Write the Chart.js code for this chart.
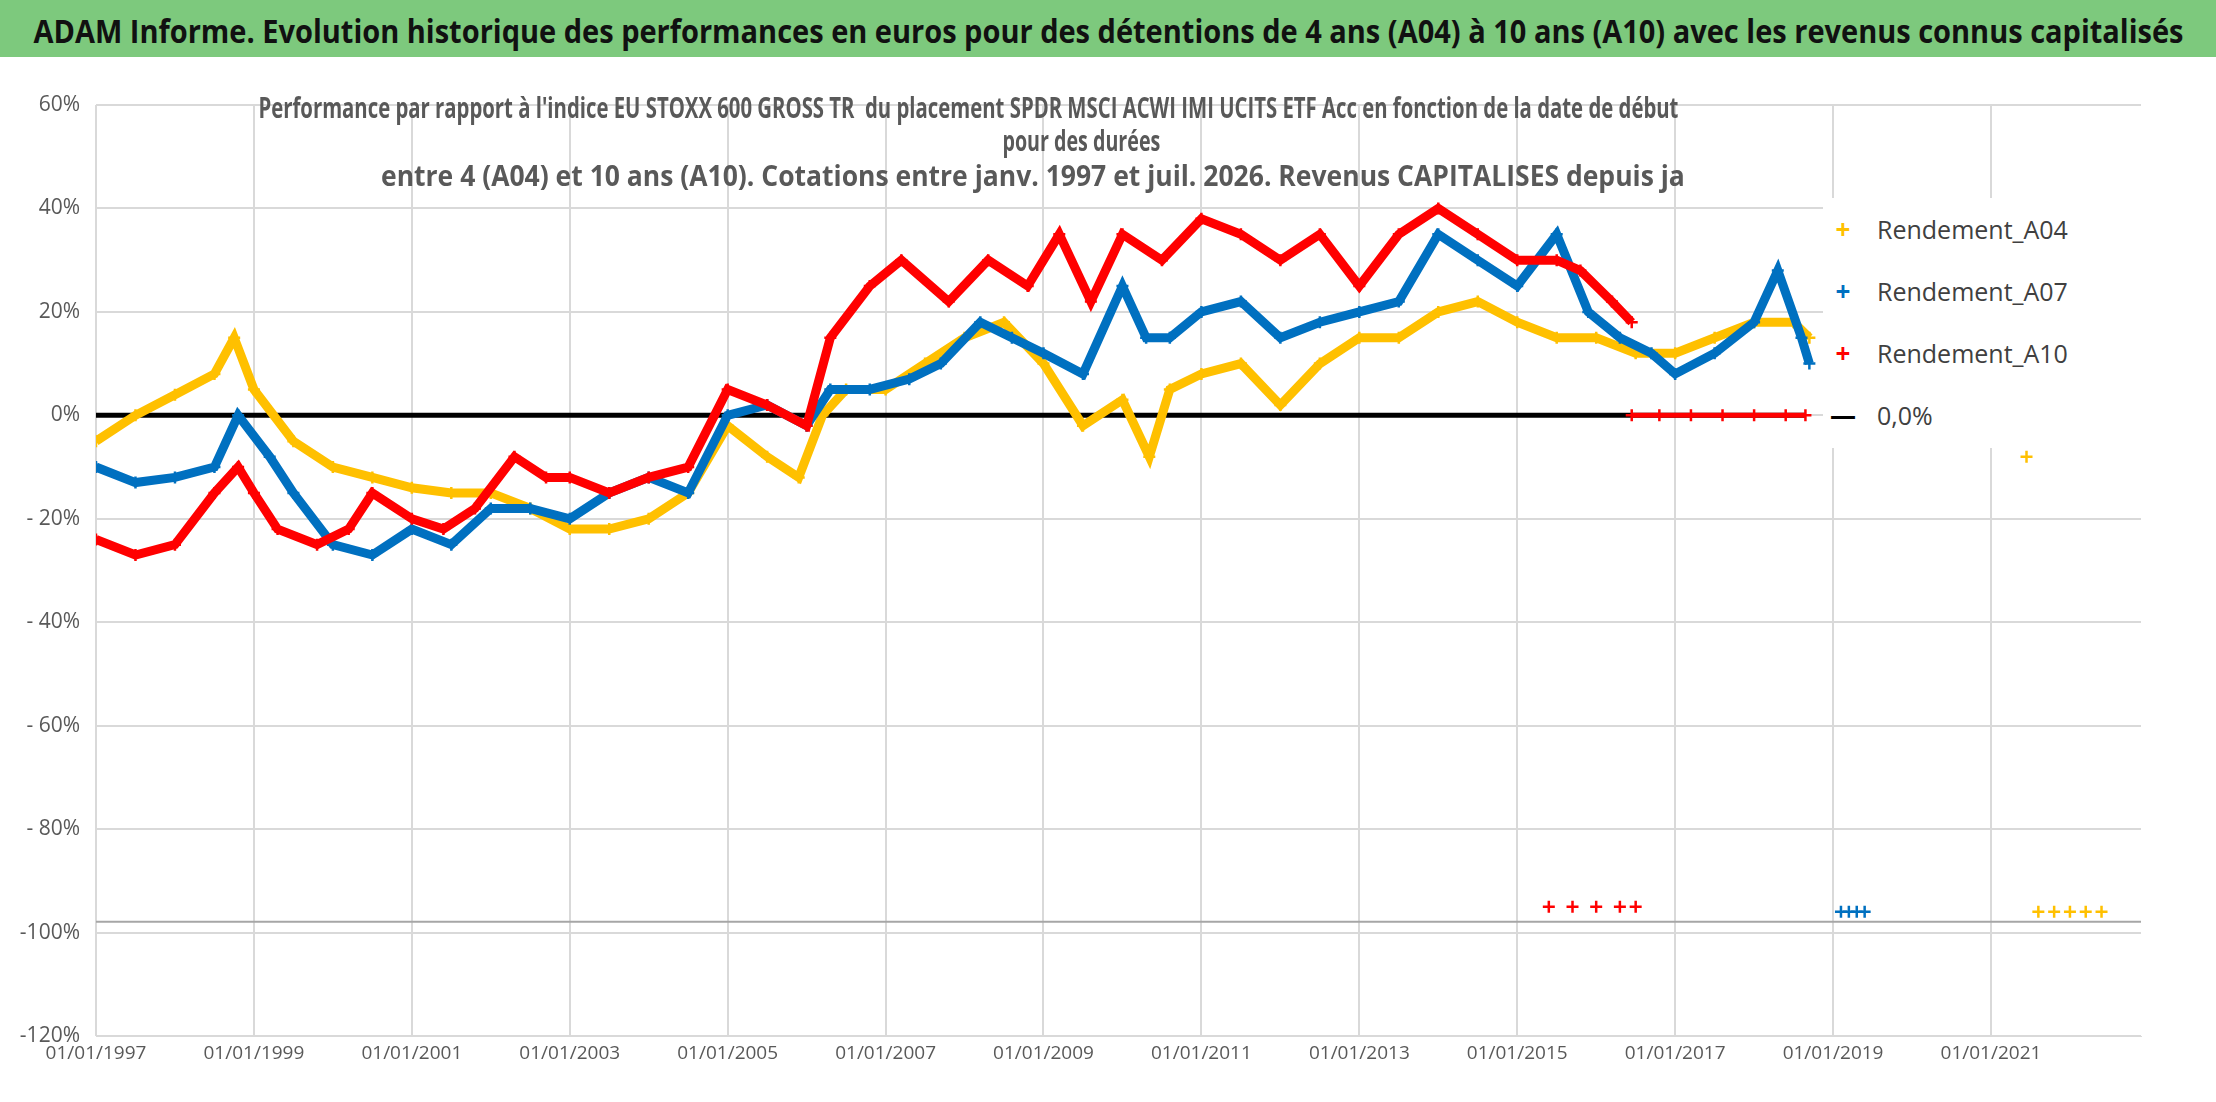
<!DOCTYPE html>
<html><head><meta charset="utf-8">
<script src="https://cdn.jsdelivr.net/npm/chart.js@4"></script>
<style>
body{margin:0;width:2216px;height:1102px;background:#fff;font-family:"Liberation Sans",Arial,sans-serif;position:relative;overflow:hidden}
#bar{position:absolute;left:0;top:0;width:2216px;height:57px;background:#7dc97d}
.fit{position:absolute;white-space:nowrap;transform-origin:center center}
#t1{top:9px;font:bold 32px "Open Sans",sans-serif;color:#111}
.s{font:bold 28px "Open Sans",sans-serif;color:#595959}
#wrap{position:absolute;left:0;top:57px;width:2216px;height:1045px}
#leg{position:absolute;left:1823px;top:198px;width:318px;height:250px;background:#fff;font:25px "Open Sans",sans-serif;color:#404040}
#leg div{height:62px;display:flex;align-items:center}
#leg span.m{display:inline-block;width:40px;text-align:center;font-weight:bold;font-size:26px;margin-right:14px}
</style></head><body>
<div id="bar"></div>
<div id="t1" class="fit" data-c="1108" data-w="2150">ADAM Informe. Evolution historique des performances en euros pour des détentions de 4 ans (A04) à 10 ans (A10) avec les revenus connus capitalisés</div>
<div id="wrap"><canvas id="c"></canvas></div>
<div class="fit s" style="top:88px" data-c="968" data-w="1420">Performance par rapport à l'indice EU STOXX 600 GROSS TR &nbsp;du placement SPDR MSCI ACWI IMI UCITS ETF Acc en fonction de la date de début</div>
<div class="fit s" style="top:121px" data-c="1081" data-w="158">pour des durées</div>
<div class="fit s" style="top:156px" data-c="1033" data-w="1304">entre 4 (A04) et 10 ans (A10). Cotations entre janv. 1997 et juil. 2026. Revenus CAPITALISES depuis ja</div>
<div id="leg"></div>
<script>
// dates in decimal years, values in %
const a04Dates = [1997,1997.5,1998,1998.5,1998.75,1999,1999.5,2000,2000.5,2001,2001.5,2002,2002.5,2003,2003.5,2004,2004.5,2005,2005.5,2005.9,2006.2,2006.5,2007,2007.5,2008,2008.5,2009,2009.5,2010,2010.34,2010.6,2011,2011.5,2012,2012.5,2013,2013.5,2014,2014.5,2015,2015.5,2016,2016.5,2017,2017.5,2018,2018.5,2018.7];
const a04Vals  = [-5,0,4,8,15,5,-5,-10,-12,-14,-15,-15,-18,-22,-22,-20,-15,-2,-8,-12,0,5,5,10,15,18,10,-2,3,-8,5,8,10,2,10,15,15,20,22,18,15,15,12,12,15,18,18,15];
const a04OutDates = [2021.45,2021.6,2021.8,2022.0,2022.2,2022.4];
const a04OutVals  = [-8,-96,-96,-96,-96,-96];

const a07Dates = [1997,1997.5,1998,1998.5,1998.8,1999.2,1999.5,2000,2000.5,2001,2001.5,2002,2002.5,2003,2003.5,2004,2004.5,2005,2005.5,2006,2006.3,2006.8,2007.3,2007.7,2008.2,2008.6,2009,2009.5,2010,2010.3,2010.6,2011,2011.5,2012,2012.5,2013,2013.5,2014,2014.5,2015,2015.5,2015.9,2016.3,2016.7,2017,2017.5,2018,2018.3,2018.6,2018.7];
const a07Vals  = [-10,-13,-12,-10,0,-8,-15,-25,-27,-22,-25,-18,-18,-20,-15,-12,-15,0,2,-2,5,5,7,10,18,15,12,8,25,15,15,20,22,15,18,20,22,35,30,25,35,20,15,12,8,12,18,28,15,10];
const a07OutDates = [2019.1,2019.2,2019.3,2019.4];
const a07OutVals  = [-96,-96,-96,-96];

const a10Dates = [1997,1997.5,1998,1998.5,1998.8,1999,1999.3,1999.8,2000.2,2000.5,2001,2001.4,2001.8,2002.3,2002.7,2003,2003.5,2004,2004.5,2005,2005.5,2006,2006.3,2006.8,2007.2,2007.8,2008.3,2008.8,2009.2,2009.6,2010,2010.5,2011,2011.5,2012,2012.5,2013,2013.5,2014,2014.5,2015,2015.5,2015.8,2016.2,2016.45];
const a10Vals  = [-24,-27,-25,-15,-10,-15,-22,-25,-22,-15,-20,-22,-18,-8,-12,-12,-15,-12,-10,5,2,-2,15,25,30,22,30,25,35,22,35,30,38,35,30,35,25,35,40,35,30,30,28,22,18];
const a10ZeroDates = [2016.45,2016.8,2017.2,2017.6,2018.0,2018.4,2018.65];
const a10OutDates = [2015.4,2015.7,2016.0,2016.3,2016.5];
const a10OutVals  = [-95,-95,-95,-95,-95];

const yTicks = [60,40,20,0,-20,-40,-60,-80,-100,-120];
const xStart = 1997, xEnd = 2022.9;

const pts = (d,v) => d.map((x,i)=>({x, y:v[i]}));
const mk = (label,data,color,order,line) => ({label,data,borderColor:color,backgroundColor:color,pointStyle:'cross',pointRadius:6,pointBorderWidth:2.5,showLine:line,borderWidth:line?9:0,order});

const datasets = [
  mk('Rendement_A04',pts(a04Dates,a04Vals),'#ffc000',3,true),
  mk('Rendement_A07',pts(a07Dates,a07Vals),'#0070c0',2,true),
  mk('Rendement_A10',pts(a10Dates,a10Vals),'#ff0000',1,true),
  mk('a04o',pts(a04OutDates,a04OutVals),'#ffc000',3,false),
  mk('a07o',pts(a07OutDates,a07OutVals),'#0070c0',2,false),
  mk('a10o',pts(a10OutDates,a10OutVals),'#ff0000',1,false),
  mk('a10z',pts(a10ZeroDates,a10ZeroDates.map(()=>0)),'#ff0000',1,true),
  {label:'0,0%',data:[{x:xStart,y:0},{x:2018.65,y:0}],borderColor:'#000',borderWidth:5,pointRadius:0,showLine:true,order:4},
  {label:'base',data:[{x:xStart,y:-97.9},{x:xEnd,y:-97.9}],borderColor:'#a6a6a6',borderWidth:2,pointRadius:0,showLine:true,order:5},
  mk('a10end',[{x:xEnd,y:0}],'#ff0000',1,false)
];
datasets[6].borderWidth = 5;

new Chart(document.getElementById('c'),{
  type:'scatter',
  data:{datasets},
  options:{
    responsive:true,maintainAspectRatio:false,animation:false,
    layout:{padding:{top:48,right:75}},
    plugins:{legend:{display:false},tooltip:{enabled:false}},
    scales:{
      x:{type:'linear',min:xStart,max:xEnd,
        afterBuildTicks:s=>{s.ticks=[];for(let y=xStart;y<=2021;y+=2)s.ticks.push({value:y});},
        ticks:{callback:v=>'01/01/'+v,color:'#595959',font:{size:19,family:'"Open Sans", sans-serif'},maxRotation:0,padding:6},
        grid:{color:'#d9d9d9',lineWidth:2,drawTicks:false},border:{color:'#d9d9d9'},
        afterFit:s=>{s.height=66}},
      y:{min:-120,max:60,
        afterBuildTicks:s=>{s.ticks=yTicks.map(v=>({value:v}));},
        ticks:{callback:v=>v<0&&v>-100?'- '+(-v)+'%':v+'%',color:'#595959',font:{size:21,family:'"Open Sans", sans-serif'},padding:16},
        grid:{color:'#d9d9d9',lineWidth:2,drawTicks:false},border:{display:false},
        afterFit:s=>{s.width=96}}
    }
  }
});

const leg = document.getElementById('leg');
[['Rendement_A04','#ffc000','+'],['Rendement_A07','#0070c0','+'],['Rendement_A10','#ff0000','+'],['0,0%','#000','—']].forEach(([t,c,m])=>{
  const d=document.createElement('div');
  d.innerHTML='<span class="m" style="color:'+c+'">'+m+'</span>'+t;
  leg.appendChild(d);
});

// squeeze text lines to the widths seen in the reference
document.querySelectorAll('.fit').forEach(el=>{
  const w=el.offsetWidth, tw=+el.dataset.w, c=+el.dataset.c;
  el.style.left=(c-w/2)+'px';
  el.style.transform='scaleX('+(tw/w)+')';
});
</script>
</body></html>
